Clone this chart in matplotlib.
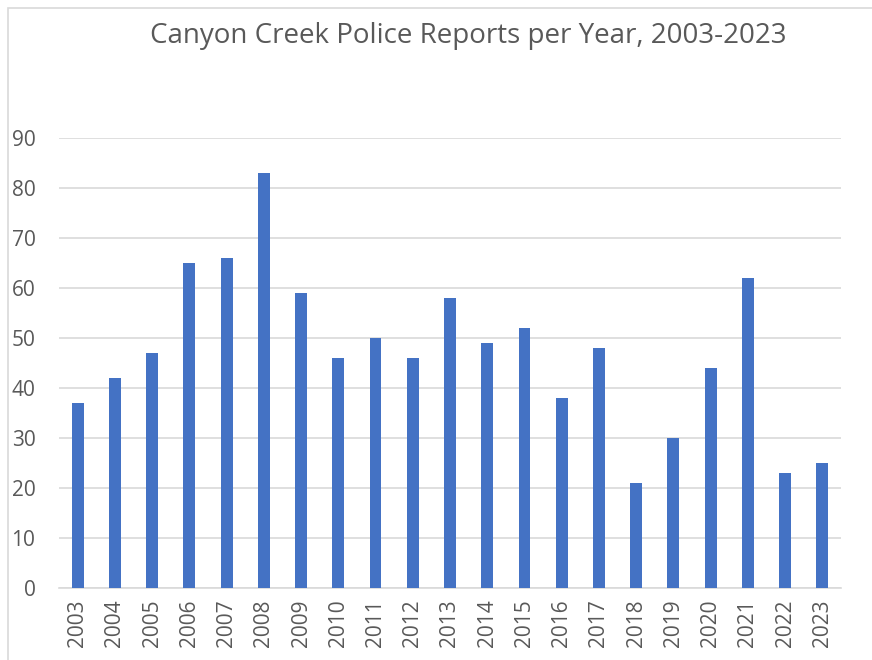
import matplotlib.pyplot as plt
from matplotlib.patches import Rectangle

years = [str(y) for y in range(2003, 2024)]
reports = [37, 42, 47, 65, 66, 83, 59, 46, 50, 46, 58, 49, 52, 38, 48, 21, 30, 44, 62, 23, 25]

W, H = 872, 660
fig = plt.figure(figsize=(W / 100, H / 100), dpi=100)
plt.rcParams['font.family'] = ['Open Sans', 'DejaVu Sans']

# chart border (only top/left visible in the reference)
fig.patches.append(Rectangle((8 / W, -0.1), 1.2, (H - 8) / H + 0.1, transform=fig.transFigure,
                             fill=False, edgecolor='#d9d9d9', linewidth=1.2))

ax = fig.add_axes([59 / W, 72 / H, 782 / W, 450 / H])
ax.bar(years, reports, width=0.32, color='#4472C4', zorder=3)
ax.set_ylim(0, 90)
ax.set_xlim(-0.5, len(years) - 0.5)
ax.set_yticks(range(0, 91, 10))
ax.yaxis.grid(True, color='#d9d9d9', linewidth=1.2, zorder=0)
for s in ['top', 'right', 'left']:
    ax.spines[s].set_visible(False)
ax.spines['bottom'].set_color('#d9d9d9')
ax.spines['bottom'].set_linewidth(1.2)
ax.tick_params(axis='both', length=0, colors='#595959', labelsize=15)
ax.tick_params(axis='x', rotation=90, pad=8)
ax.tick_params(axis='y', pad=17)

fig.text(468 / W, 1 - 36 / H, 'Canyon Creek Police Reports per Year, 2003-2023',
         ha='center', va='center', fontsize=20, color='#595959')

fig.savefig('out.png', dpi=100)
